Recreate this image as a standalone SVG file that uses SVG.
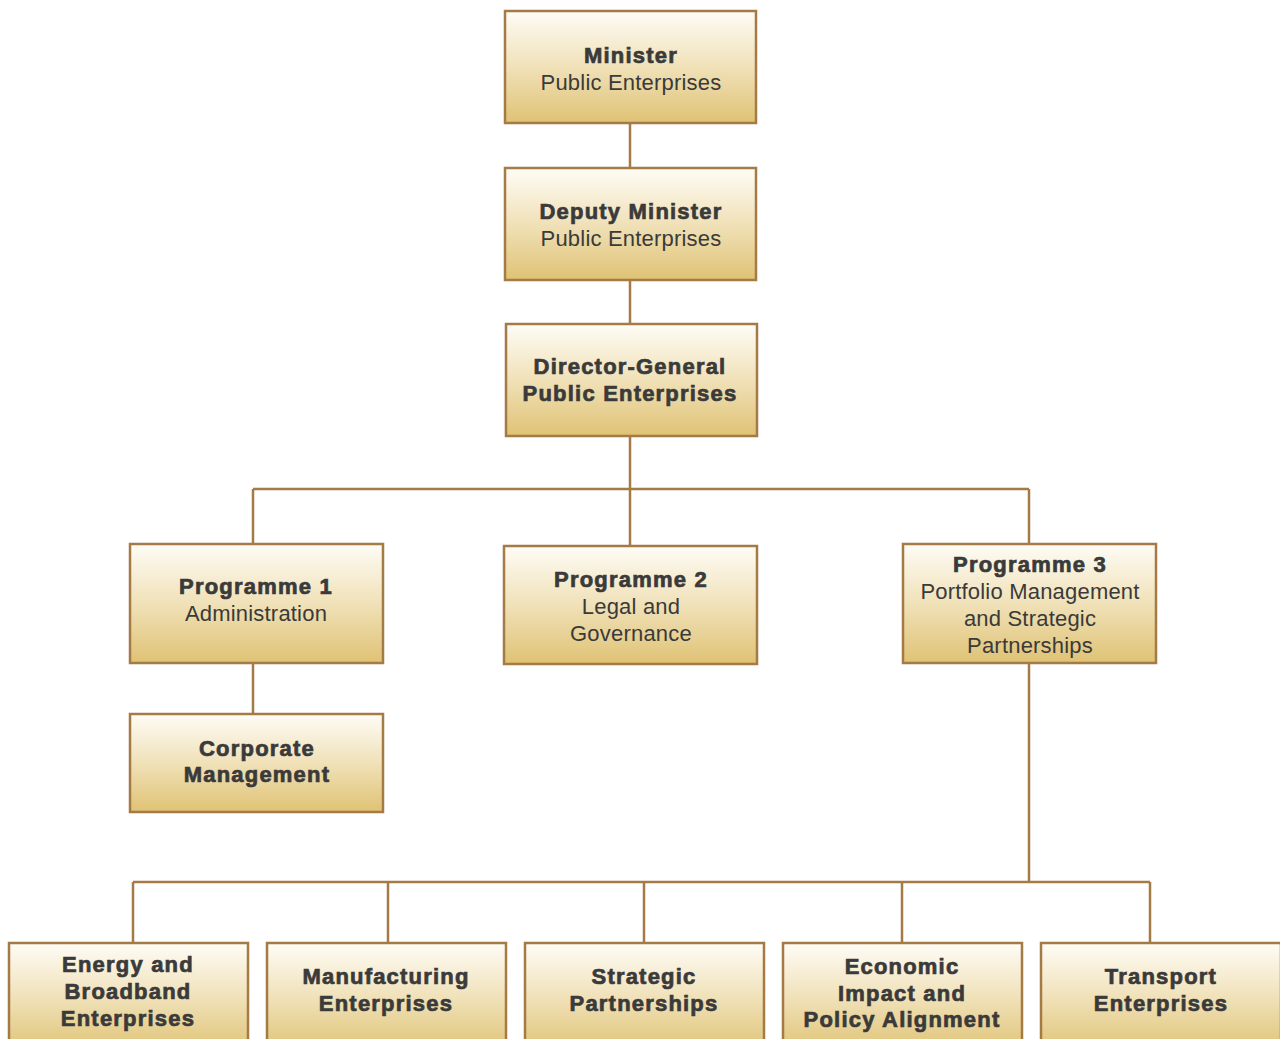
<svg xmlns="http://www.w3.org/2000/svg" width="1280" height="1039" viewBox="0 0 1280 1039">
<defs>
<linearGradient id="g" x1="0" y1="0" x2="0" y2="1">
<stop offset="0" stop-color="#fefcf6"/>
<stop offset="0.5" stop-color="#f0e1b8"/>
<stop offset="1" stop-color="#dfc274"/>
</linearGradient>
<style>
.box{fill:url(#g);stroke:#a47a45;stroke-width:2.5}
.ln{fill:none;stroke:#a47a45;stroke-width:2.5}
text{font-family:"Liberation Sans",Arial,sans-serif;font-size:22px;fill:#3a3a3a;text-anchor:middle;letter-spacing:0.2px}
.b{font-weight:bold;letter-spacing:1.2px;stroke:#3a3a3a;stroke-width:0.7}
</style>
</defs>
<rect width="1280" height="1039" fill="#ffffff"/>
<g id="connectors">
<path class="ln" d="M630 123V168M630 280V324M630 436V546M253 489H1029M253 489V544M1029 489V544M253 663V714M1029 663V882M133 882H1150M133 882V943M388 882V943M644 882V943M902 882V943M1150 882V943"/>
</g>
<g id="minister">
<rect class="box" x="505" y="11" width="251" height="112"/>
<text class="b" x="631" y="63">Minister</text>
<text x="631" y="90">Public Enterprises</text>
</g>
<g id="deputy">
<rect class="box" x="505" y="168" width="251" height="112"/>
<text class="b" x="631" y="219">Deputy Minister</text>
<text x="631" y="246">Public Enterprises</text>
</g>
<g id="dg">
<rect class="box" x="506" y="324" width="251" height="112"/>
<text class="b" x="630" y="374">Director-General</text>
<text class="b" x="630" y="401">Public Enterprises</text>
</g>
<g id="prog1">
<rect class="box" x="130" y="544" width="253" height="119"/>
<text class="b" x="256" y="594">Programme 1</text>
<text x="256" y="621">Administration</text>
</g>
<g id="prog2">
<rect class="box" x="504" y="546" width="253" height="118"/>
<text class="b" x="631" y="587">Programme 2</text>
<text x="631" y="614">Legal and</text>
<text x="631" y="641">Governance</text>
</g>
<g id="prog3">
<rect class="box" x="903" y="544" width="253" height="119"/>
<text class="b" x="1030" y="572">Programme 3</text>
<text x="1030" y="599">Portfolio Management</text>
<text x="1030" y="626">and Strategic</text>
<text x="1030" y="653">Partnerships</text>
</g>
<g id="corporate">
<rect class="box" x="130" y="714" width="253" height="98"/>
<text class="b" x="257" y="756">Corporate</text>
<text class="b" x="257" y="782">Management</text>
</g>
<g id="energy">
<rect class="box" x="9" y="943" width="239" height="110"/>
<text class="b" x="128" y="972">Energy and</text>
<text class="b" x="128" y="999">Broadband</text>
<text class="b" x="128" y="1026">Enterprises</text>
</g>
<g id="manufacturing">
<rect class="box" x="267" y="943" width="239" height="110"/>
<text class="b" x="386" y="984">Manufacturing</text>
<text class="b" x="386" y="1011">Enterprises</text>
</g>
<g id="strategic">
<rect class="box" x="525" y="943" width="239" height="110"/>
<text class="b" x="644" y="984">Strategic</text>
<text class="b" x="644" y="1011">Partnerships</text>
</g>
<g id="economic">
<rect class="box" x="783" y="943" width="239" height="110"/>
<text class="b" x="902" y="974">Economic</text>
<text class="b" x="902" y="1001">Impact and</text>
<text class="b" x="902" y="1027">Policy Alignment</text>
</g>
<g id="transport">
<rect class="box" x="1041" y="943" width="240" height="110"/>
<text class="b" x="1161" y="984">Transport</text>
<text class="b" x="1161" y="1011">Enterprises</text>
</g>
</svg>
